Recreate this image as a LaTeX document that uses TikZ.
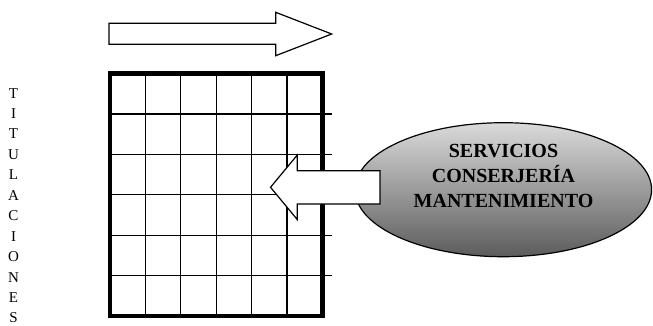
\documentclass[tikz,border=0pt]{standalone}
\usepackage{fontspec}
\setmainfont{Liberation Serif}
\usetikzlibrary{shapes.geometric}

\definecolor{ellTop}{RGB}{218,218,218}
\definecolor{ellBot}{RGB}{92,92,92}

\tikzset{
  gridline/.style={line width=1.3pt, draw=black},
  frameline/.style={line width=4.5pt, draw=black},
  blockarrow/.style={line width=1.2pt, draw=black, fill=white, line join=miter},
  vletter/.style={anchor=base, inner sep=0pt, font=\fontsize{15}{15}\selectfont},
  elltext/.style={anchor=base, inner sep=0pt, font=\fontsize{20}{20}\selectfont\bfseries},
}

\begin{document}
\begin{tikzpicture}[x=1pt, y=-1pt]
  \useasboundingbox (0,0) rectangle (653,325);

  % vertical label, one letter per line
  \foreach \ch [count=\i] in {T,I,T,U,L,A,C,I,O,N,E,S} {
    \node[vletter] (tit\i) at (13.5, {98 + (\i-1)*20.45}) {\ch};
  }

  % top block arrow pointing right
  \coordinate (ta1) at (109,23.3);
  \coordinate (ta2) at (275.7,23.3);
  \coordinate (ta3) at (275.7,12.3);
  \coordinate (tatip) at (331.7,34);
  \coordinate (ta5) at (275.7,55.7);
  \coordinate (ta6) at (275.7,44.3);
  \coordinate (ta7) at (109,44.3);
  \draw[blockarrow] (ta1) -- (ta2) -- (ta3) -- (tatip) -- (ta5) -- (ta6) -- (ta7) -- cycle;

  % grid: interior lines (horizontal ones reach past the frame)
  \foreach \k in {1,...,5} {
    \draw[gridline] ({110 + \k*35.42}, 73.5) -- ({110 + \k*35.42}, 316);
    \draw[gridline] (110, {73.5 + \k*40.42}) -- (332, {73.5 + \k*40.42});
  }
  % heavy frame
  \draw[frameline] (110,73.5) rectangle (322.5,316);

  % shaded ellipse with its label
  \node[ellipse, draw=black, line width=1.2pt, inner sep=0pt,
        minimum width=296.6pt, minimum height=134pt,
        top color=ellTop, bottom color=ellBot] (serv) at (503.3,189.7) {};
  \node[elltext] (l1) at (503.5,157) {SERVICIOS};
  \node[elltext] (l2) at (503.5,182.5) {CONSERJERÍA};
  \node[elltext] (l3) at (503.5,207) {MANTENIMIENTO};

  % block arrow pointing left into the grid
  \coordinate (la1) at (380,170.7);
  \coordinate (la2) at (297.3,170.7);
  \coordinate (la3) at (297.3,155);
  \coordinate (latip) at (270.5,187.3);
  \coordinate (la5) at (297.3,219.6);
  \coordinate (la6) at (297.3,204);
  \coordinate (la7) at (380,204);
  \draw[blockarrow] (la1) -- (la2) -- (la3) -- (latip) -- (la5) -- (la6) -- (la7) -- cycle;
\end{tikzpicture}
\end{document}
